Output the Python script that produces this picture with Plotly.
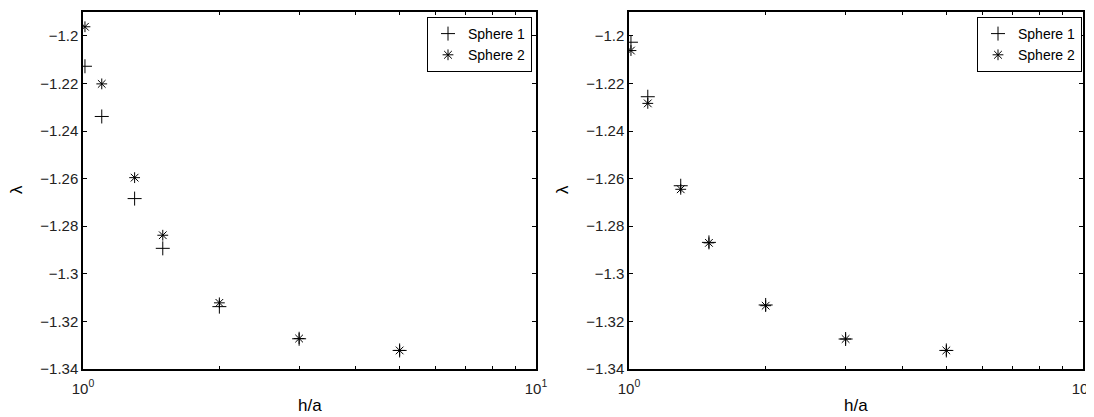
import plotly.graph_objects as go

# Data
h_a = [1.01, 1.1, 1.3, 1.5, 2.0, 3.0, 5.0]
left_sphere1 = [-1.2128, -1.2339, -1.2684, -1.2893, -1.3138, -1.3273, -1.3322]
left_sphere2 = [-1.1962, -1.2202, -1.2596, -1.2838, -1.3122, -1.3272, -1.3322]
right_sphere1 = [-1.2027, -1.2256, -1.2630, -1.2868, -1.3131, -1.3274, -1.3322]
right_sphere2 = [-1.2062, -1.2284, -1.2645, -1.2870, -1.3134, -1.3274, -1.3322]

x_tickvals = [1, 2, 3, 4, 5, 6, 7, 8, 9, 10]
x_ticktext = ["10<sup>0</sup>", "", "", "", "", "", "", "", "", "10<sup>1</sup>"]
y_tickvals = [-1.2, -1.22, -1.24, -1.26, -1.28, -1.3, -1.32, -1.34]
y_ticktext = ["−1.2", "−1.22", "−1.24", "−1.26", "−1.28", "−1.3", "−1.32", "−1.34"]

FONT = "Liberation Sans, Arial, Helvetica, sans-serif"
OFF = 8  # page body margin
W, H = 1094 - OFF, 417 - OFF
top_px, bot_px = 12, 369  # plot area in page pixels
mt = top_px - OFF
mb = H - (bot_px - OFF)
ph = H - mt - mb

def fx(px):
    return (px - OFF) / W

def fy(py):
    return (H - mb - (py - OFF)) / ph

fig = go.Figure()

def add_pair(s1, s2, xa, ya, leg):
    fig.add_trace(go.Scatter(x=h_a, y=s1, mode="markers", name="Sphere 1",
                             xaxis=xa, yaxis=ya, legend=leg,
                             marker=dict(symbol="cross-thin-open", size=10, color="black",
                                         line=dict(color="black", width=1))))
    fig.add_trace(go.Scatter(x=h_a, y=s2, mode="markers", name="Sphere 2",
                             xaxis=xa, yaxis=ya, legend=leg,
                             marker=dict(symbol="asterisk-open", size=9, color="black",
                                         line=dict(color="black", width=1))))

add_pair(left_sphere1, left_sphere2, "x", "y", "legend")
add_pair(right_sphere1, right_sphere2, "x2", "y2", "legend2")

tickfont = dict(family=FONT, size=15, color="#222")
xcommon = dict(type="log", range=[0, 1], tickvals=x_tickvals, ticktext=x_ticktext,
               ticks="inside", ticklen=3, tickcolor="black", mirror="ticks",
               showline=True, linecolor="black", linewidth=1.5, showgrid=False,
               zeroline=False, tickfont=tickfont, automargin=False,
               ticklabeloverflow="allow", ticklabelstandoff=5)
ycommon = dict(range=[-1.34, -1.19], tickvals=y_tickvals, ticktext=y_ticktext,
               ticks="inside", ticklen=4, tickcolor="black", mirror="ticks",
               showline=True, linecolor="black", linewidth=1.5, showgrid=False,
               zeroline=False, tickfont=tickfont, automargin=False,
               ticklabeloverflow="allow")

legcommon = dict(bgcolor="white", bordercolor="black", borderwidth=1,
                 font=dict(family=FONT, size=14, color="black"),
                 xanchor="right", yanchor="top", tracegroupgap=0)

fig.update_layout(
    width=W, height=H,
    margin=dict(l=0, r=0, t=mt, b=mb, autoexpand=False),
    paper_bgcolor="white", plot_bgcolor="white",
    xaxis=dict(domain=[fx(83), fx(536)], anchor="y", **xcommon),
    yaxis=dict(domain=[0, 1], anchor="x", **ycommon),
    xaxis2=dict(domain=[fx(629), fx(1083)], anchor="y2", **xcommon),
    yaxis2=dict(domain=[0, 1], anchor="x2", **ycommon),
    legend=dict(x=fx(532), y=fy(17), **legcommon),
    legend2=dict(x=fx(1082), y=fy(17), **legcommon),
    showlegend=True,
)

annots = [
    dict(text="h/a", x=fx((83 + 536) / 2), y=fy(405)),
    dict(text="h/a", x=fx((629 + 1083) / 2), y=fy(405)),
    dict(text="λ", x=fx(16), y=fy(190), textangle=-90),
    dict(text="λ", x=fx(562), y=fy(190), textangle=-90),
]
for a in annots:
    fig.add_annotation(xref="paper", yref="paper", showarrow=False,
                       xanchor="center", yanchor="middle",
                       font=dict(family=FONT, size=17, color="black"), **a)

fig.write_html("out.html")
